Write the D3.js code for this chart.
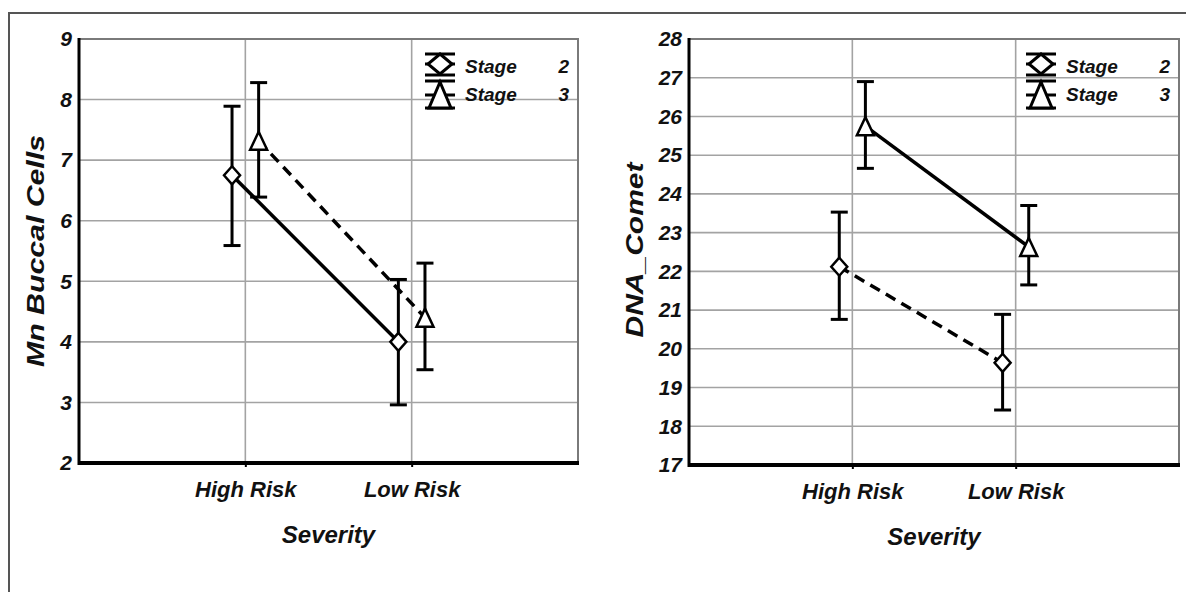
<!DOCTYPE html>
<html><head><meta charset="utf-8">
<script src="https://cdn.jsdelivr.net/npm/d3@7"></script>
<style>
html,body{margin:0;padding:0;background:#fff;}
svg{display:block;}
text{font-family:"Liberation Sans",Arial,sans-serif;font-weight:bold;font-style:italic;fill:#111;}
</style></head>
<body><svg id="c" width="1186" height="592"></svg>
<script>
// ---- data ----
const categories = ["High Risk", "Low Risk"];
const seriesNames = ["Stage", "Stage"];
const seriesLevels = ["2", "3"];
const xTitle = "Severity";

// Left panel: Mn Buccal Cells
const mnTitle = "Mn Buccal Cells";
const mnTicks = [2, 3, 4, 5, 6, 7, 8, 9];
const mnStage2Mean = [6.75, 4.00];
const mnStage2Low  = [5.59, 2.96];
const mnStage2High = [7.89, 5.03];
const mnStage3Mean = [7.32, 4.40];
const mnStage3Low  = [6.39, 3.54];
const mnStage3High = [8.28, 5.30];

// Right panel: DNA_Comet
const dnaTitle = "DNA_Comet";
const dnaTicks = [17, 18, 19, 20, 21, 22, 23, 24, 25, 26, 27, 28];
const dnaStage2Mean = [22.12, 19.64];
const dnaStage2Low  = [20.76, 18.42];
const dnaStage2High = [23.53, 20.89];
const dnaStage3Mean = [25.75, 22.63];
const dnaStage3Low  = [24.66, 21.65];
const dnaStage3High = [26.90, 23.70];

// ---- drawing ----
const svg = d3.select("#c");
svg.append("rect").attr("width",1186).attr("height",592).attr("fill","#fff");
svg.append("path").attr("d","M9,592V13H1186").attr("fill","none").attr("stroke","#555").attr("stroke-width",2);

function diamondPath(hw, hh){ return `M0,${-hh}L${hw},0L0,${hh}L${-hw},0Z`; }
function trianglePath(hw, hh){ return `M0,${-hh}L${hw},${hh}L${-hw},${hh}Z`; }
const markerShapes = [ (s)=>diamondPath(s*8, s*9), (s)=>trianglePath(s*8.5, s*9) ];

function panel(cfg){
  const g = svg.append("g");
  const {x0,x1,y0,y1} = cfg;
  const x = d3.scalePoint().domain(categories).range([x0,x1]).padding(1);
  const y = d3.scaleLinear().domain(d3.extent(cfg.ticks)).range([y1,y0]);
  const off = x.step()*0.08;

  // grid
  g.append("g").selectAll("line").data(cfg.ticks.slice(1)).join("line")
    .attr("x1",x0).attr("x2",x1).attr("y1",d=>y(d)).attr("y2",d=>y(d))
    .attr("stroke","#a3a3a3").attr("stroke-width",1.6);
  g.append("g").selectAll("line").data(categories).join("line")
    .attr("x1",d=>x(d)).attr("x2",d=>x(d)).attr("y1",y0).attr("y2",y1)
    .attr("stroke","#a3a3a3").attr("stroke-width",1.6);
  // frame top/right
  g.append("path").attr("d",`M${x0},${y0}H${x1}V${y1}`).attr("fill","none").attr("stroke","#7a7a7a").attr("stroke-width",2);
  // axes
  const yAxis = d3.axisLeft(y).tickValues(cfg.ticks).tickSize(0).tickPadding(7).tickFormat(d3.format("d"));
  const ya = g.append("g").attr("transform",`translate(${x0},0)`).call(yAxis);
  ya.select(".domain").remove();
  ya.selectAll("text").attr("font-size",21).attr("font-family",null).attr("font-style","italic").attr("font-weight","bold").attr("fill","#111");
  const xAxis = d3.axisBottom(x).tickSize(4).tickPadding(14);
  const xa = g.append("g").attr("transform",`translate(0,${y1})`).call(xAxis);
  xa.select(".domain").remove();
  xa.selectAll("line").attr("stroke","#000").attr("stroke-width",2);
  xa.selectAll("text").attr("font-size",22).attr("font-family",null).attr("font-style","italic").attr("font-weight","bold").attr("fill","#111");
  g.append("line").attr("x1",x0).attr("x2",x0).attr("y1",y0-1).attr("y2",y1+2).attr("stroke","#000").attr("stroke-width",3);
  g.append("line").attr("x1",x0-1).attr("x2",x1+1).attr("y1",y1).attr("y2",y1).attr("stroke","#000").attr("stroke-width",4);

  // titles
  g.append("text").attr("x",(x0+x1)/2).attr("y",cfg.xTitleY).attr("text-anchor","middle").attr("font-size",24).text(xTitle);
  g.append("text").attr("transform",`translate(${cfg.yTitleX},${cfg.yTitleY}) rotate(-90)`)
    .attr("text-anchor","middle").attr("dominant-baseline","middle").attr("font-size",24)
    .attr("textLength",cfg.yTitleLen).attr("lengthAdjust","spacingAndGlyphs").text(cfg.title);

  // series
  cfg.series.forEach((s,si)=>{
    const dx = si===0 ? -off : off;
    const pts = categories.map((c,i)=>({x:x(c)+dx, m:s.mean[i], lo:s.low[i], hi:s.high[i]}));
    const line = d3.line().x(d=>d.x).y(d=>y(d.m));
    g.append("path").attr("d",line(pts)).attr("fill","none").attr("stroke","#000").attr("stroke-width",3.5)
      .attr("stroke-dasharray", s.dashed ? "11,7" : null);
    const eb = g.append("g");
    pts.forEach(p=>{
      eb.append("line").attr("x1",p.x).attr("x2",p.x).attr("y1",y(p.lo)).attr("y2",y(p.hi)).attr("stroke","#000").attr("stroke-width",3);
      [p.lo,p.hi].forEach(v=>eb.append("line").attr("x1",p.x-8.5).attr("x2",p.x+8.5).attr("y1",y(v)).attr("y2",y(v)).attr("stroke","#000").attr("stroke-width",3));
    });
  });
  cfg.series.forEach((s,si)=>{
    const dx = si===0 ? -off : off;
    categories.forEach((c,i)=>{
      g.append("path").attr("d",markerShapes[si](1)).attr("transform",`translate(${x(c)+dx},${y(s.mean[i])})`)
        .attr("fill","#fff").attr("stroke","#000").attr("stroke-width",2.5);
    });
  });

  // legend
  const lg = g.append("g");
  const rows = [{cy:y0+25, top:y0+15, bot:y0+36, sh:(s)=>diamondPath(12,10)},
                {cy:y0+56, top:y0+42, bot:y0+69, sh:(s)=>trianglePath(11,13)}];
  rows.forEach((r,i)=>{
    const mx = x1-138;
    lg.append("line").attr("x1",mx).attr("x2",mx).attr("y1",r.top).attr("y2",r.bot).attr("stroke","#000").attr("stroke-width",3);
    [r.top,r.cy,r.bot].forEach(yy=>lg.append("line").attr("x1",mx-15).attr("x2",mx+15).attr("y1",yy).attr("y2",yy).attr("stroke","#000").attr("stroke-width",3));
    lg.append("path").attr("d",r.sh()).attr("transform",`translate(${mx},${r.cy})`).attr("fill","#fff").attr("stroke","#000").attr("stroke-width",3);
    lg.append("text").attr("x",x1-113).attr("y",y0+27+i*28).attr("dy","0.35em").attr("font-size",19).text(seriesNames[i]);
    lg.append("text").attr("x",x1-9).attr("y",y0+27+i*28).attr("dy","0.35em").attr("text-anchor","end").attr("font-size",19).text(seriesLevels[i]);
  });
}

panel({x0:79,x1:578,y0:39,y1:463,ticks:mnTicks,title:mnTitle,yTitleX:38,yTitleY:251,yTitleLen:232,xTitleY:543,
  series:[{mean:mnStage2Mean,low:mnStage2Low,high:mnStage2High,dashed:false},
          {mean:mnStage3Mean,low:mnStage3Low,high:mnStage3High,dashed:true}]});
panel({x0:689,x1:1179,y0:39,y1:465,ticks:dnaTicks,title:dnaTitle,yTitleX:637,yTitleY:250,yTitleLen:175,xTitleY:545,
  series:[{mean:dnaStage2Mean,low:dnaStage2Low,high:dnaStage2High,dashed:true},
          {mean:dnaStage3Mean,low:dnaStage3Low,high:dnaStage3High,dashed:false}]});
</script></body></html>
